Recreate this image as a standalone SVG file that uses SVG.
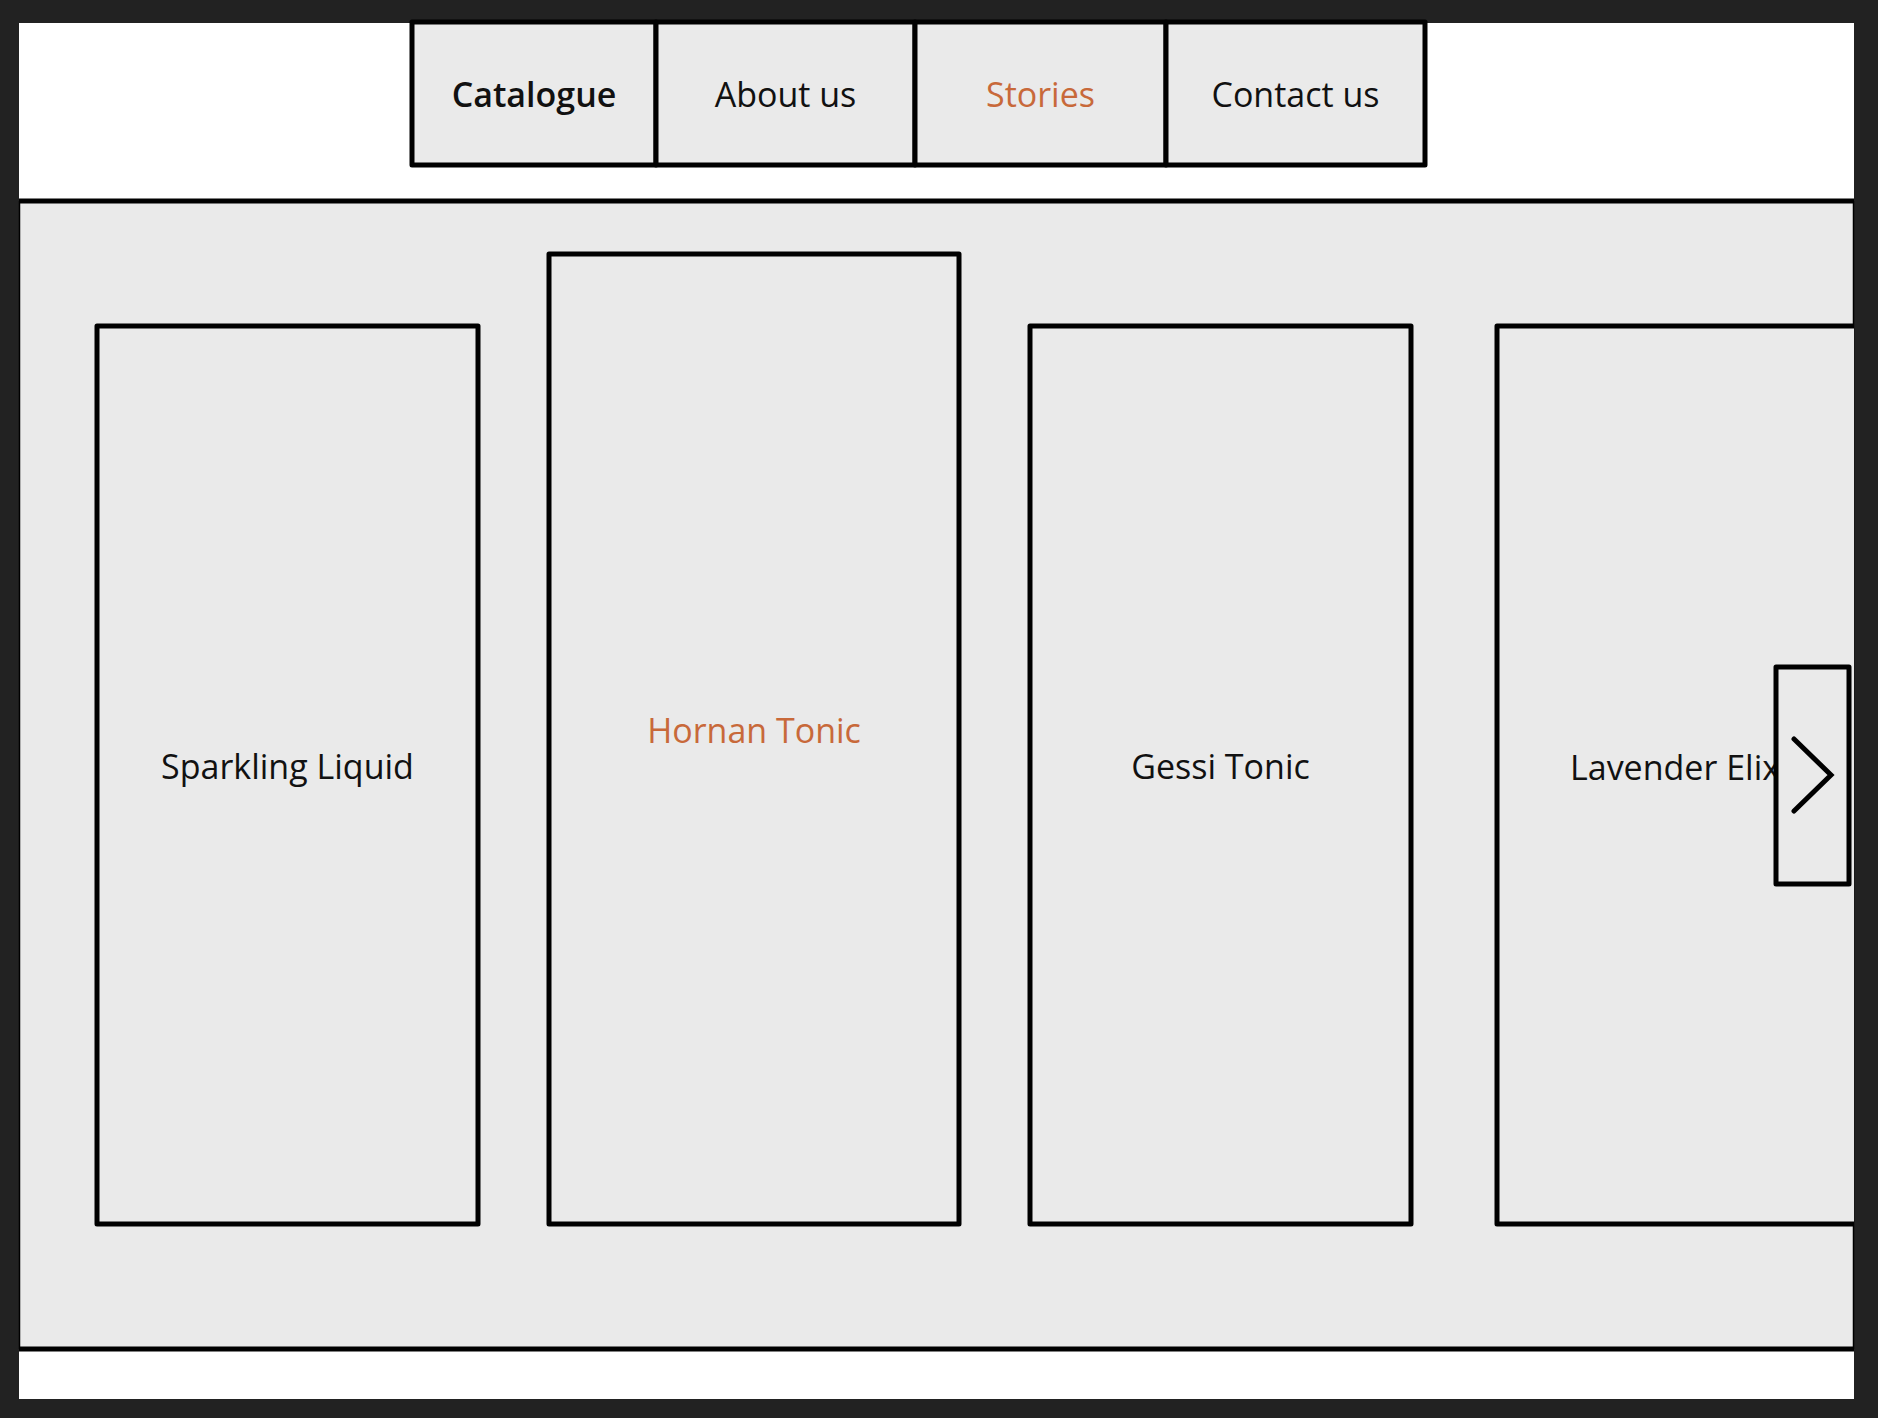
<svg xmlns="http://www.w3.org/2000/svg" width="1878" height="1418" viewBox="0 0 1878 1418">
  <style>
    .box { fill: #EAEAEA; stroke: #000; stroke-width: 5; stroke-linejoin: round; }
    .lbl { font-family: "Open Sans", "Noto Sans", sans-serif; font-size: 34px; fill: #111; text-anchor: middle; }
    .hi { fill: #C8693A; }
    .bold { font-weight: 600; }
  </style>
  <rect x="0" y="0" width="1878" height="1418" fill="#222222"/>
  <rect x="19" y="23" width="1835" height="1376" fill="#FFFFFF"/>

  <g id="section">
    <rect x="19" y="201" width="1835" height="1148" fill="#EAEAEA"/>
    <line x1="19.5" y1="201" x2="19.5" y2="1349" stroke="#000" stroke-width="1.5"/>
    <line x1="1853.5" y1="201" x2="1853.5" y2="1349" stroke="#000" stroke-width="1.5"/>
    <line x1="19" y1="201" x2="1854" y2="201" stroke="#000" stroke-width="5"/>
    <line x1="19" y1="1349" x2="1854" y2="1349" stroke="#000" stroke-width="5"/>
  </g>

  <g id="nav">
    <g id="tab-catalogue">
      <rect class="box" x="412" y="22" width="244" height="143"/>
      <text class="lbl bold" x="534" y="107">Catalogue</text>
    </g>
    <g id="tab-about">
      <rect class="box" x="656" y="22" width="259" height="143"/>
      <text class="lbl" x="785.5" y="107">About us</text>
    </g>
    <g id="tab-stories">
      <rect class="box" x="915" y="22" width="251" height="143"/>
      <text class="lbl hi" x="1040.5" y="107">Stories</text>
    </g>
    <g id="tab-contact">
      <rect class="box" x="1166" y="22" width="259" height="143"/>
      <text class="lbl" x="1295.5" y="107">Contact us</text>
    </g>
  </g>

  <g id="card-sparkling">
    <rect class="box" x="97" y="326" width="381" height="898"/>
    <text class="lbl" x="287.5" y="779">Sparkling Liquid</text>
  </g>
  <g id="card-hornan">
    <rect class="box" x="549" y="254" width="410" height="970"/>
    <text class="lbl hi" x="754" y="743">Hornan Tonic</text>
  </g>
  <g id="card-gessi">
    <rect class="box" x="1030" y="326" width="381" height="898"/>
    <text class="lbl" x="1220.5" y="779">Gessi Tonic</text>
  </g>
  <g id="card-lavender">
    <path class="box" d="M1854,326 H1497 V1224 H1854"/>
    <text class="lbl" x="1570" y="780" style="text-anchor:start">Lavender Elix</text>
  </g>

  <g id="next-button">
    <rect class="box" x="1776" y="667" width="73" height="217"/>
    <polyline points="1794,739 1831,775 1794,811" fill="none" stroke="#000" stroke-width="5" stroke-linecap="round" stroke-linejoin="miter"/>
  </g>

  <g id="connectors"></g>
</svg>
